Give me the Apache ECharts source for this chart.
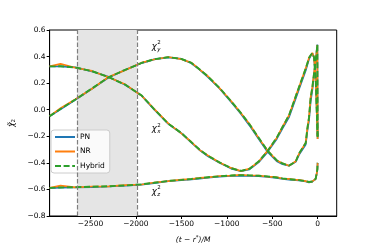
<!DOCTYPE html>
<html><head><meta charset="utf-8">
<script src="https://cdn.jsdelivr.net/npm/echarts@6/dist/echarts.min.js"></script>
<style>html,body{margin:0;padding:0;background:#fff}#c{width:374px;height:249px}</style>
</head><body><div id="c"></div>
<script>
const t = [-2950,-2830,-2666,-2484,-2301,-2119,-1937,-1800,-1644,-1500,-1389,-1300,-1207,-1080,-952,-843,-750,-650,-550,-450,-386,-314,-241,-205,-131,-113,-95,-77,-58,-40,-22,-10,-3,0];

const chiX_hyb = [0.326,0.327,0.318,0.290,0.246,0.189,0.107,0.005,-0.105,-0.175,-0.245,-0.300,-0.347,-0.396,-0.440,-0.460,-0.445,-0.390,-0.310,-0.210,-0.130,-0.040,0.100,0.170,0.310,0.350,0.390,0.410,0.426,0.395,0.250,0.000,-0.150,-0.200];
const chiY_hyb = [-0.048,0.005,0.077,0.160,0.244,0.300,0.352,0.380,0.395,0.383,0.352,0.305,0.250,0.165,0.064,-0.025,-0.110,-0.210,-0.310,-0.380,-0.405,-0.420,-0.390,-0.330,-0.250,-0.140,-0.060,0.090,0.170,0.270,0.370,0.440,0.490,-0.220];
const chiZ_hyb = [-0.588,-0.585,-0.583,-0.580,-0.576,-0.570,-0.562,-0.550,-0.536,-0.528,-0.521,-0.515,-0.508,-0.501,-0.495,-0.492,-0.494,-0.497,-0.502,-0.510,-0.517,-0.523,-0.527,-0.530,-0.537,-0.540,-0.544,-0.546,-0.540,-0.530,-0.521,-0.480,-0.450,-0.400];

const chiX_nr = [0.326,0.345,0.316,0.292,0.244,0.191,0.105,0.007,-0.103,-0.178,-0.243,-0.302,-0.345,-0.398,-0.438,-0.462,-0.443,-0.392,-0.308,-0.212,-0.128,-0.042,0.102,0.168,0.312,0.348,0.392,0.408,0.428,0.393,0.252,0.002,-0.148,-0.200];
const chiY_nr = [-0.048,0.012,0.079,0.158,0.246,0.298,0.354,0.378,0.397,0.381,0.354,0.303,0.252,0.163,0.066,-0.027,-0.108,-0.212,-0.308,-0.382,-0.403,-0.422,-0.388,-0.332,-0.248,-0.142,-0.058,0.092,0.168,0.272,0.368,0.442,0.488,-0.220];
const chiZ_nr = [-0.588,-0.572,-0.584,-0.578,-0.577,-0.568,-0.563,-0.548,-0.537,-0.526,-0.522,-0.513,-0.509,-0.499,-0.496,-0.490,-0.495,-0.495,-0.503,-0.508,-0.518,-0.521,-0.528,-0.528,-0.538,-0.538,-0.545,-0.548,-0.539,-0.531,-0.520,-0.482,-0.448,-0.400];

const chiX_pn = [0.326,0.326,0.318,0.289,0.247,0.188,0.106,0.003,-0.107,-0.177,-0.247,-0.303,-0.350,-0.399,-0.443,-0.463,-0.449,-0.396,-0.317,-0.220,-0.140,-0.055,0.085,0.155,0.295,0.338,0.380,0.405,0.424,0.395,0.250,0.000,-0.150,-0.200];
const chiY_pn = [-0.050,0.003,0.075,0.158,0.243,0.299,0.351,0.379,0.394,0.382,0.350,0.302,0.246,0.160,0.058,-0.032,-0.118,-0.218,-0.318,-0.388,-0.410,-0.422,-0.392,-0.340,-0.262,-0.160,-0.080,0.060,0.150,0.260,0.365,0.440,0.490,-0.220];
const chiZ_pn = [-0.590,-0.587,-0.585,-0.582,-0.578,-0.572,-0.564,-0.552,-0.538,-0.531,-0.524,-0.518,-0.511,-0.504,-0.498,-0.496,-0.498,-0.501,-0.506,-0.514,-0.521,-0.527,-0.531,-0.533,-0.540,-0.543,-0.547,-0.549,-0.542,-0.531,-0.521,-0.480,-0.450,-0.400];

const xTicks = [-2500,-2000,-1500,-1000,-500,0];
const shade = [-2645,-1990];
const labels = [
  {sub:'y', t:-1772, v:0.473},
  {sub:'x', t:-1772, v:-0.147},
  {sub:'z', t:-1772, v:-0.618}
];

const FONT = 'DejaVu Sans';
const C = {PN:'#1f77b4', NR:'#ff7f0e', Hybrid:'#2ca02c'};
const pair = arr => t.map((x,i)=>[x,arr[i]]);
const mk = (name, arr) => ({
  name, type:'line', data:pair(arr), symbol:'none', showSymbol:false, animation:false,
  lineStyle:{color:C[name], width: name==='Hybrid'?1.9:1.7, type: name==='Hybrid'?[6,2.6]:'solid'},
  itemStyle:{color:C[name]}, z: name==='PN'?2:(name==='NR'?3:4)
});

const series = [
  {type:'line', data:[], silent:true, z:1,
   markArea:{silent:true, itemStyle:{color:'#e5e5e5'}, data:[[{xAxis:shade[0]},{xAxis:shade[1]}]]},
   markLine:{silent:true, symbol:'none', label:{show:false},
     lineStyle:{color:'#7f7f7f', type:[4.5,2], width:1.2},
     data:[{xAxis:shade[0]},{xAxis:shade[1]}]}},
  mk('PN', chiX_pn), mk('PN', chiY_pn), mk('PN', chiZ_pn),
  mk('NR', chiX_nr), mk('NR', chiY_nr), mk('NR', chiZ_nr),
  mk('Hybrid', chiX_hyb), mk('Hybrid', chiY_hyb), mk('Hybrid', chiZ_hyb)
];

const chart = echarts.init(document.getElementById('c'), null, {renderer:'canvas'});
const minus = s => String(s).replace('-', '\u2212');
chart.setOption({
  animation:false,
  backgroundColor:'#fff',
  textStyle:{fontFamily:FONT},
  grid:{left:46.7, right:37.3, top:30, bottom:31.7, show:true, borderColor:'#000', borderWidth:1, backgroundColor:'transparent'},
  legend:{
    data:['PN','NR','Hybrid'], orient:'vertical', left:51, top:130,
    itemWidth:20, itemHeight:7, itemGap:6.5, padding:[3,5,3,3],
    itemStyle:{opacity:0},
    borderColor:'#cccccc', borderWidth:1, borderRadius:3, backgroundColor:'rgba(255,255,255,0.8)',
    textStyle:{fontFamily:FONT, fontSize:7.5, color:'#000'}
  },
  xAxis:{
    type:'value', min:-2950, max:210,
    axisLine:{show:true, onZero:false, lineStyle:{color:'#000', width:1}},
    axisTick:{show:true, length:3, lineStyle:{color:'#000'}, customValues:xTicks},
    axisLabel:{fontFamily:FONT, fontSize:7.5, color:'#000', margin:4, customValues:xTicks, formatter:v=>minus(v)},
    splitLine:{show:false},
    name:'{i|(t \u2212 r}{s|*}{i|)/M}', nameLocation:'middle', nameGap:19,
    nameTextStyle:{rich:{i:{fontFamily:FONT, fontStyle:'italic', fontSize:7.5, color:'#000'}, s:{fontFamily:FONT, fontSize:5.5, color:'#000', verticalAlign:'top', padding:[0,0,4,0]}}}
  },
  yAxis:{
    type:'value', min:-0.8, max:0.6, interval:0.2,
    axisLine:{show:true, onZero:false, lineStyle:{color:'#000', width:1}},
    axisTick:{show:true, length:3, lineStyle:{color:'#000'}},
    axisLabel:{fontFamily:FONT, fontSize:7.5, color:'#000', margin:4, formatter:v=>minus(v.toFixed(1))},
    splitLine:{show:false},
    name:'{c|\u03C7\u0303}{s|2}', nameLocation:'middle', nameGap:33, nameRotate:90,
    nameTextStyle:{rich:{c:{fontFamily:FONT, fontStyle:'italic', fontSize:8, color:'#000'}, s:{fontFamily:FONT, fontSize:5.5, color:'#000', padding:[3,0,0,0]}}}
  },
  series
});

const g = [];
labels.forEach(l => {
  const p = chart.convertToPixel({gridIndex:0}, [l.t, l.v]);
  g.push({type:'text', x:p[0]-5, y:p[1]-5, silent:true, style:{text:'\u03C7', font:'italic 8.5px "DejaVu Sans"', fill:'#000'}});
  g.push({type:'text', x:p[0]+0.5, y:p[1]-7, silent:true, style:{text:'2', font:'5.5px "DejaVu Sans"', fill:'#000'}});
  g.push({type:'text', x:p[0]+0.5, y:p[1]-0.5, silent:true, style:{text:l.sub, font:'italic 5.5px "DejaVu Sans"', fill:'#000'}});
});
chart.setOption({graphic:g});
</script></body></html>
